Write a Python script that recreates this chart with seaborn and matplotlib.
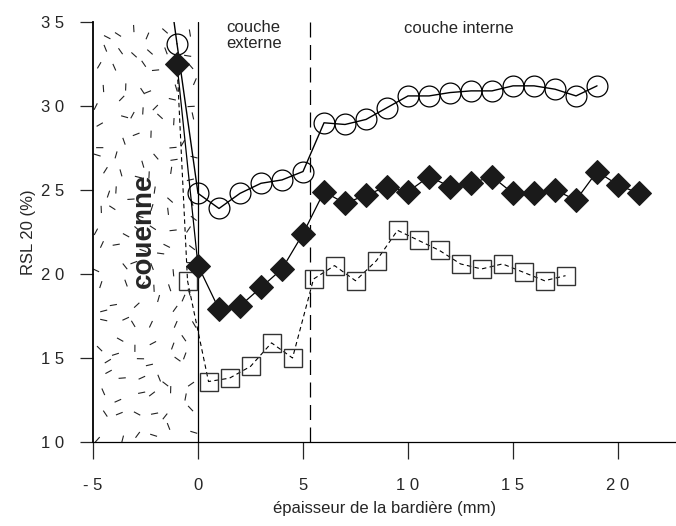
import numpy as np
import pandas as pd
import seaborn as sns
import matplotlib.pyplot as plt
from matplotlib.collections import LineCollection

# valeurs (RSL 20 en %)
x_circ = [-1, 0, 1, 2, 3, 4, 5, 6, 7, 8, 9, 10, 11, 12, 13, 14, 15, 16, 17, 18, 19]
rsl_circ = [33.7, 24.8, 23.9, 24.8, 25.4, 25.6, 26.1, 29.0, 28.9, 29.2, 29.9,
            30.6, 30.6, 30.8, 30.9, 30.9, 31.2, 31.2, 31.0, 30.6, 31.2]

x_diam = [-1, 0, 1, 2, 3, 4, 5, 6, 7, 8, 9, 10, 11, 12, 13, 14, 15, 16, 17, 18, 19, 20, 21]
rsl_diam = [32.5, 20.5, 17.9, 18.1, 19.2, 20.3, 22.4, 24.9, 24.2, 24.7, 25.2, 24.9,
            25.8, 25.2, 25.4, 25.8, 24.8, 24.8, 25.0, 24.4, 26.1, 25.3, 24.8]

x_sq = [-0.5, 0.5, 1.5, 2.5, 3.5, 4.5, 5.5, 6.5, 7.5, 8.5, 9.5, 10.5, 11.5, 12.5,
        13.5, 14.5, 15.5, 16.5, 17.5]
rsl_sq = [19.6, 13.6, 13.8, 14.5, 15.9, 15.0, 19.7, 20.5, 19.6, 20.8, 22.6, 22.0,
          21.4, 20.6, 20.3, 20.6, 20.1, 19.6, 19.9]

# debut des courbes (hors cadre / sous le losange)
x_circ_lead = [-1.25, -1]
rsl_circ_lead = [36.0, 33.7]
x_sq_lead = [-1, -0.5]
rsl_sq_lead = [32.5, 19.6]

xticks = [-5, 0, 5, 10, 15, 20]
xtick_labels = ["- 5", "0", "5", "1 0", "1 5", "2 0"]
yticks = [10, 15, 20, 25, 30, 35]
ytick_labels = ["1 0", "1 5", "2 0", "2 5", "3 0", "3 5"]

x_couenne = 0
x_interface = 5.35

circ = pd.DataFrame({"x": x_circ, "rsl": rsl_circ})
diam = pd.DataFrame({"x": x_diam, "rsl": rsl_diam})
sq = pd.DataFrame({"x": x_sq, "rsl": rsl_sq})

sns.set_style("ticks")
plt.rcParams["font.family"] = ["Liberation Sans", "DejaVu Sans"]

fig = plt.figure(figsize=(6.76, 5.26), dpi=100)
ax = fig.add_axes([93 / 676, 1 - 442 / 526, (676 - 93) / 676, 420 / 526])


def hash01(k, seed):
    # petit hachage deterministe pour la texture de la couenne
    h = np.sin(k * 12.9898 + seed * 78.233) * 43758.5453
    return h - np.floor(h)


# texture de la couenne : petits traits sur une grille decalee
cols, rows = 6, 23
gi, gj = np.meshgrid(np.arange(cols), np.arange(rows))
k = (gi + gj * cols).ravel().astype(float)
cx = -5 + (gi.ravel() + 0.1 + 0.8 * hash01(k, 1)) * 5 / cols
cy = 10 + (gj.ravel() + 0.1 + 0.8 * hash01(k, 2)) * 25 / rows
ang = hash01(k, 3) * np.pi
half = 3.6
dx = half / 21 * np.cos(ang)
dy = half / 16.8 * np.sin(ang)
segs = np.stack([np.column_stack([cx - dx, cy - dy]),
                 np.column_stack([cx + dx, cy + dy])], axis=1)
ax.add_collection(LineCollection(segs, colors="#222222", linewidths=0.8, zorder=1))

ax.axvline(x_couenne, color="black", lw=0.9, zorder=2)
ax.axvline(x_interface, color="black", lw=0.9, ls=(0, (12, 6)), zorder=2)

sns.lineplot(x=x_circ_lead, y=rsl_circ_lead, ax=ax, color="black", lw=1.0)
sns.lineplot(x=x_sq_lead, y=rsl_sq_lead, ax=ax, color="black", lw=0.8, ls=(0, (4, 3)))

sns.lineplot(data=sq, x="x", y="rsl", ax=ax, color="black", lw=0.8, ls=(0, (4, 3)),
             marker="s", markersize=13, markerfacecolor="none",
             markeredgecolor="#333333", markeredgewidth=1.0, zorder=3)
sns.lineplot(data=circ, x="x", y="rsl", ax=ax, color="black", lw=1.0,
             marker="o", markersize=15, markerfacecolor="none",
             markeredgecolor="black", markeredgewidth=0.9, zorder=4)
sns.lineplot(data=diam, x="x", y="rsl", ax=ax, color="black", lw=0.9,
             marker="D", markersize=12.5, markerfacecolor="#1a1a1a",
             markeredgecolor="#1a1a1a", zorder=5)

ax.text(-2.6, 22.6, "couenne", rotation=90, fontsize=20, fontweight="bold",
        ha="center", va="center", zorder=6)
ax.text(2.65, 34.2, "couche\nexterne", fontsize=12, ha="center", va="center",
        linespacing=1.1)
ax.text(12.4, 34.6, "couche interne", fontsize=12, ha="center", va="center")

ax.set_xlim(-5, 22.76)
ax.set_ylim(10, 35)
ax.set_xticks(xticks)
ax.set_xticklabels(xtick_labels)
ax.set_yticks(yticks)
ax.set_yticklabels(ytick_labels)
ax.tick_params(axis="x", direction="out", length=12, width=0.9, pad=14, labelsize=12)
ax.tick_params(axis="y", direction="out", length=9.5, width=0.9, pad=11, labelsize=12)
ax.set_xlabel("épaisseur de la bardière (mm)", fontsize=12, labelpad=6)
ax.set_ylabel("RSL 20 (%)", fontsize=12, labelpad=4)

sns.despine(ax=ax)
ax.spines["left"].set_linewidth(1.3)
ax.spines["bottom"].set_linewidth(0.9)
for s in ("left", "bottom"):
    ax.spines[s].set_color("black")

fig.savefig("out.png", dpi=100)
